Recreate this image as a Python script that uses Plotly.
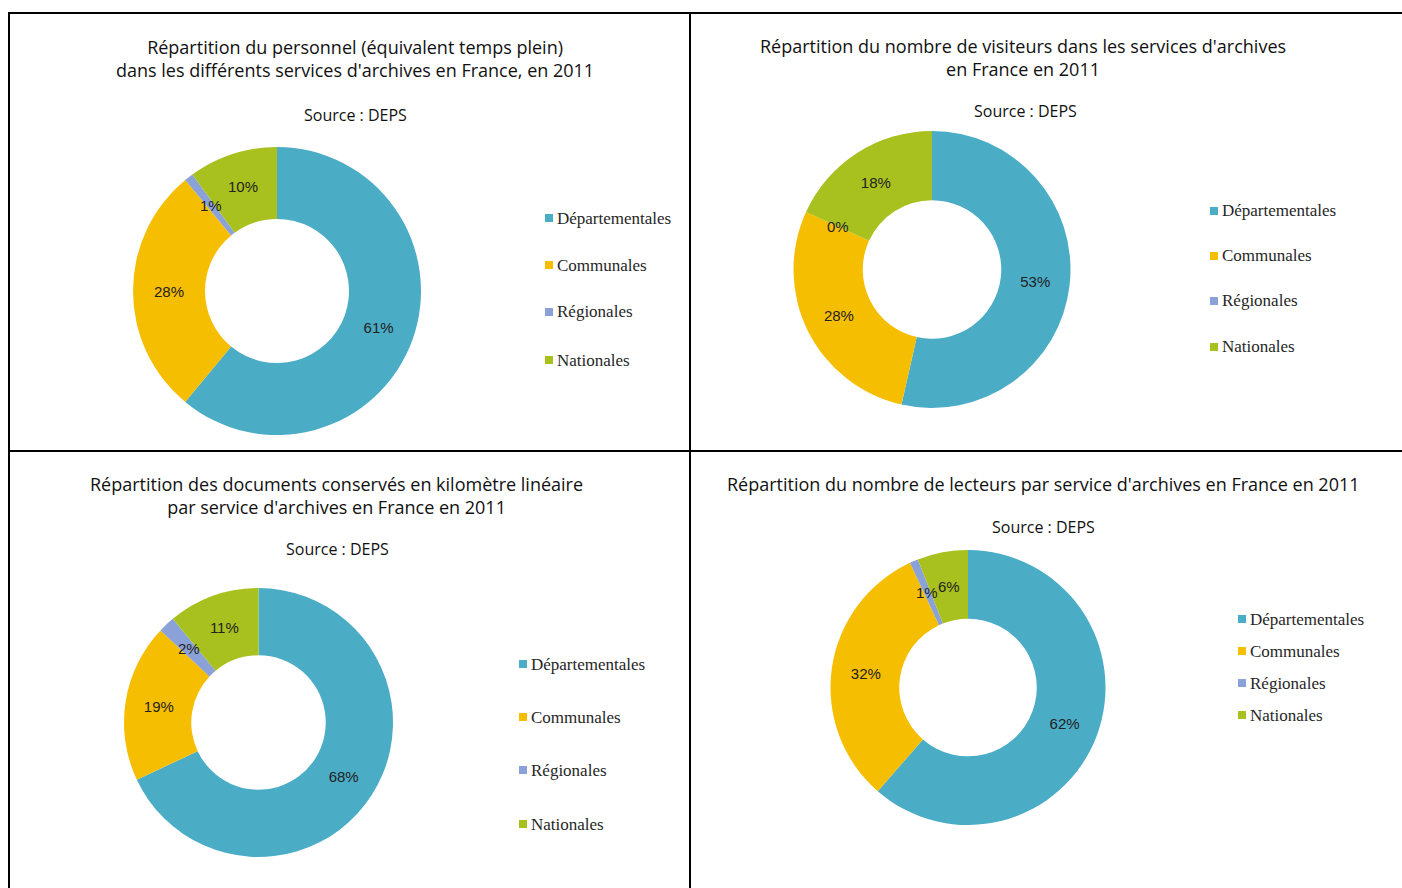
import math
import plotly.graph_objects as go

W, H = 1402, 888

categories = ["Départementales", "Communales", "Régionales", "Nationales"]
colors = ["#4BACC6", "#F6BE00", "#8BA2D8", "#A9C11F"]

titles = [
    "Répartition du personnel (équivalent temps plein)<br>dans les différents services d'archives en France, en 2011",
    "Répartition du nombre de visiteurs dans les services d'archives<br>en France en 2011",
    "Répartition des documents conservés en kilomètre linéaire<br>par service d'archives en France en 2011",
    "Répartition du nombre de lecteurs par service d'archives en France en 2011",
]
source_text = "Source : DEPS"

personnel = [61, 28, 1, 10]
visiteurs = [53, 28, 0, 18]
documents = [68, 19, 2, 11]
lecteurs = [62, 32, 1, 6]
series = [personnel, visiteurs, documents, lecteurs]

# ---- layout constants (pixels) ----
HOLE = 0.5
pie_center = [(277, 291), (932, 269.5), (258.5, 722.5), (968, 687.5)]
pie_radius = [144, 138.5, 134.5, 137.5]
title_pos = [(355, 45), (1023, 44), (336, 482), (1043, 482)]
source_pos = [(355, 115), (1025, 111), (337, 549), (1043, 527)]
legend_x = [549, 1214, 523, 1242]
legend_rows = [
    [218, 265, 312, 360],
    [211, 256, 301, 347],
    [664, 717, 770, 824],
    [619, 651, 683, 715],
]
SMALL = 0.08  # slices thinner than this get their label placed at the ring middle

label_font = dict(family="Liberation Sans, Arial, sans-serif", size=15, color="#222222")


def px(x):
    return x / W


def py(y):
    return 1 - y / H


fig = go.Figure()
annotations = []
shapes = []

for i, vals in enumerate(series):
    cx, cy = pie_center[i]
    r = pie_radius[i]
    total = float(sum(vals))
    texts = []
    cum = 0.0
    for v in vals:
        frac = v / total
        if frac >= SMALL:
            texts.append(f"{v}%")
        else:
            texts.append("")
            theta = 2 * math.pi * (cum + v / 2) / total
            rm = r * (1 + HOLE) / 2
            annotations.append(dict(
                text=f"{v}%", x=px(cx + rm * math.sin(theta)), y=py(cy - rm * math.cos(theta)),
                xref="paper", yref="paper", xanchor="center", yanchor="middle",
                showarrow=False, font=label_font,
            ))
        cum += v
    fig.add_trace(go.Pie(
        labels=categories,
        values=vals,
        text=texts,
        hole=HOLE,
        sort=False,
        direction="clockwise",
        rotation=0,
        marker=dict(colors=colors, line=dict(width=0)),
        texttemplate="%{text}",
        textposition="inside",
        insidetextorientation="horizontal",
        textfont=label_font,
        domain=dict(x=[px(cx - r), px(cx + r)], y=[py(cy + r), py(cy - r)]),
        showlegend=False,
        hoverinfo="label+value",
    ))
    tx, ty = title_pos[i]
    annotations.append(dict(
        text=titles[i], x=px(tx), y=py(ty - 12), xref="paper", yref="paper",
        xanchor="center", yanchor="top", showarrow=False, align="center",
        font=dict(family="Open Sans, sans-serif", size=18, color="#111111"),
    ))
    sx, sy = source_pos[i]
    annotations.append(dict(
        text=source_text, x=px(sx), y=py(sy), xref="paper", yref="paper",
        xanchor="center", yanchor="middle", showarrow=False,
        font=dict(family="Open Sans, sans-serif", size=16, color="#111111"),
    ))
    lx = legend_x[i]
    for j, cat in enumerate(categories):
        ly = legend_rows[i][j]
        shapes.append(dict(
            type="rect", xref="paper", yref="paper",
            x0=px(lx - 4), x1=px(lx + 4), y0=py(ly + 4), y1=py(ly - 4),
            fillcolor=colors[j], line=dict(width=0),
        ))
        annotations.append(dict(
            text=cat, x=px(lx + 6), y=py(ly), xref="paper", yref="paper",
            xanchor="left", yanchor="middle", showarrow=False,
            font=dict(family="Liberation Serif, Times New Roman, serif", size=17, color="#262626"),
        ))

# frame lines
line = dict(color="black", width=2)
shapes += [
    dict(type="line", xref="paper", yref="paper", x0=px(8), x1=px(1402), y0=py(13), y1=py(13), line=line),
    dict(type="line", xref="paper", yref="paper", x0=px(9), x1=px(9), y0=py(13), y1=py(888), line=line),
    dict(type="line", xref="paper", yref="paper", x0=px(690), x1=px(690), y0=py(13), y1=py(888), line=line),
    dict(type="line", xref="paper", yref="paper", x0=px(8), x1=px(1402), y0=py(451), y1=py(451), line=line),
]

fig.update_layout(
    width=W, height=H,
    margin=dict(l=0, r=0, t=0, b=0),
    paper_bgcolor="white", plot_bgcolor="white",
    annotations=annotations, shapes=shapes,
    uniformtext=dict(minsize=15, mode="show"),
    showlegend=False,
)

fig.write_html(
    "out.html",
    config={"displayModeBar": False},
    post_script="document.body.style.margin='0';document.body.style.overflow='hidden';",
)
